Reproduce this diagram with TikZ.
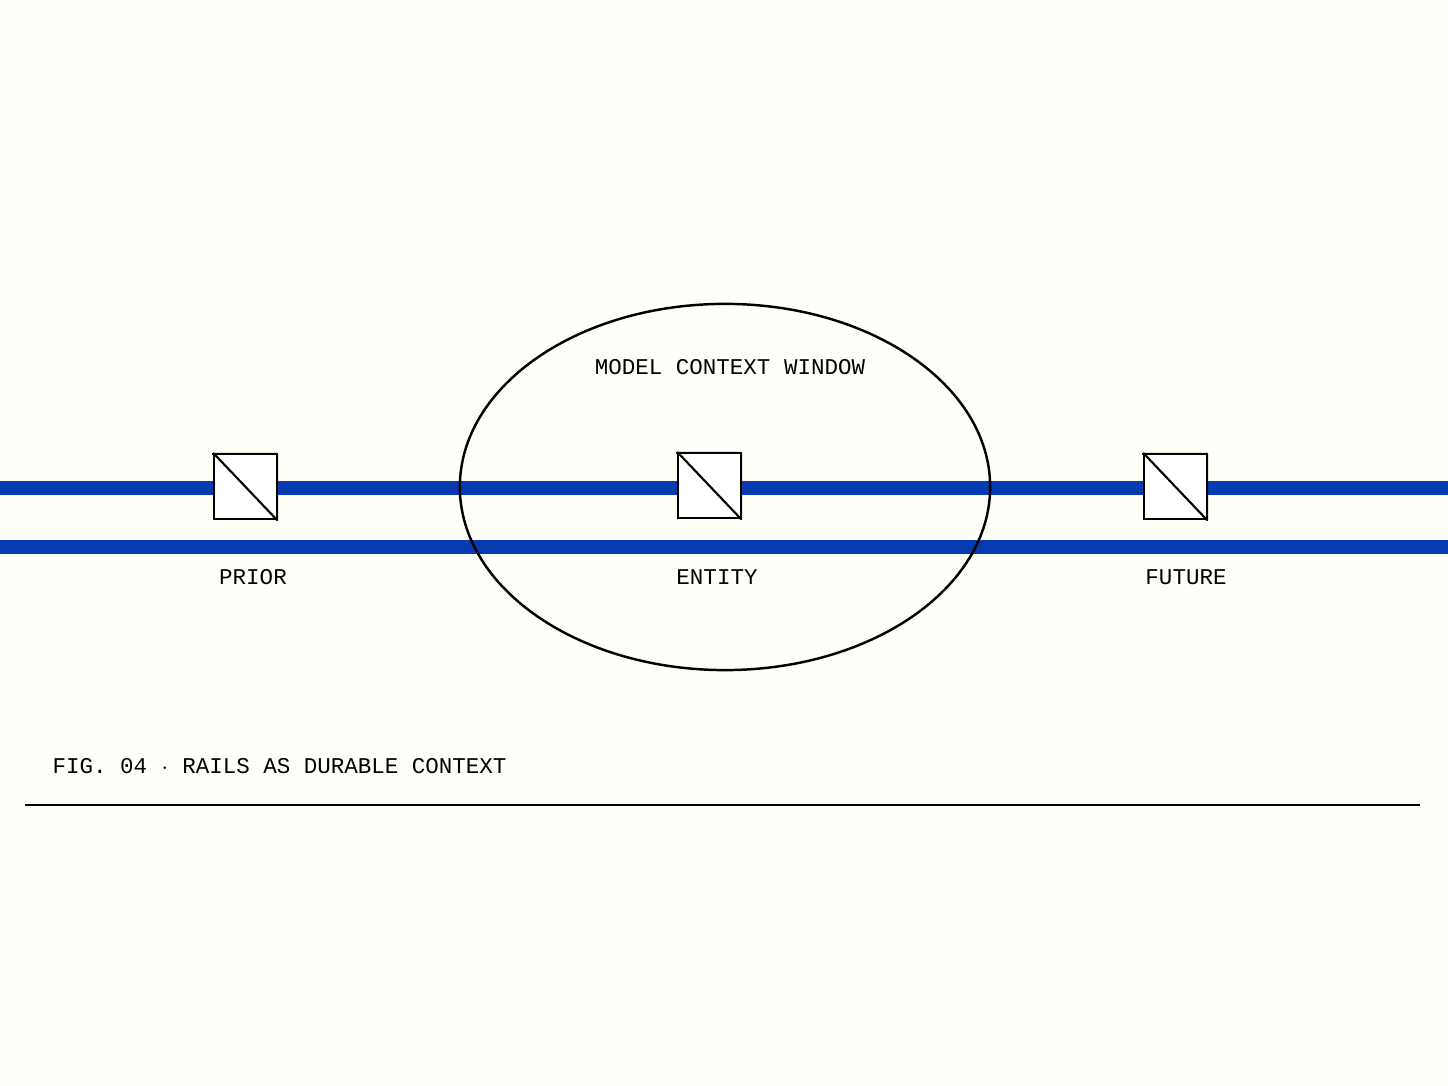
\documentclass[tikz,border=0pt]{standalone}
\usepackage{fontspec}
\setmonofont{Liberation Mono}
\usetikzlibrary{positioning,shapes.geometric}
\definecolor{railblue}{RGB}{8,58,178}
\tikzset{
  rail/.style={line width=0.14cm, railblue},
  box/.style={draw=black, fill=white, line width=0.6pt, minimum width=0.62cm, minimum height=0.64cm, inner sep=0pt},
  tag/.style={font=\ttfamily\fontsize{6.4}{7}\selectfont, inner sep=0pt},
}
\newcommand{\cubetop}[1]{%
  \draw[line width=0.6pt, fill=white, line join=round]
    (#1.north west) -- ++(0.14,0.14) -- ++(0.62,0) -- ++(0,-0.64) -- (#1.south east) -- (#1.north east) -- cycle
    (#1.north east) -- ++(0.14,0.14);}
\begin{document}
\begin{tikzpicture}[x=0.01cm,y=-0.01cm]
  \useasboundingbox[fill=white!98!yellow] (0,0) rectangle (1448,1086);

  % rails
  \coordinate (r1w) at (0,488);  \coordinate (r1e) at (1448,488);
  \coordinate (r2w) at (0,547);  \coordinate (r2e) at (1448,547);
  \draw[rail] (r1w) -- (r1e);
  \draw[rail] (r2w) -- (r2e);

  % window
  \node[draw, ellipse, line width=0.7pt, minimum width=5.3cm, minimum height=3.66cm] (win) at (725,487) {};
  \node[tag] (wlab) at (730,367) {MODEL CONTEXT WINDOW};

  % cubes
  \node[box] (prior)  at (245,487) {};
  \node[box] (entity) at (709,486) {};
  \node[box] (future) at (1175,487) {};
  \cubetop{prior}
  \cubetop{entity}
  \cubetop{future}

  \node[tag] (lprior)  at (253,577)  {PRIOR};
  \node[tag] (lentity) at (717,577)  {ENTITY};
  \node[tag] (lfuture) at (1186,577) {FUTURE};

  % caption
  \node[tag, anchor=west] (cap) at (52,766) {FIG. 04 $\cdot$ RAILS AS DURABLE CONTEXT};
  \coordinate (bw) at (25,805); \coordinate (be) at (1420,805);
  \draw[line width=0.7pt] (bw) -- (be);
\end{tikzpicture}
\end{document}
